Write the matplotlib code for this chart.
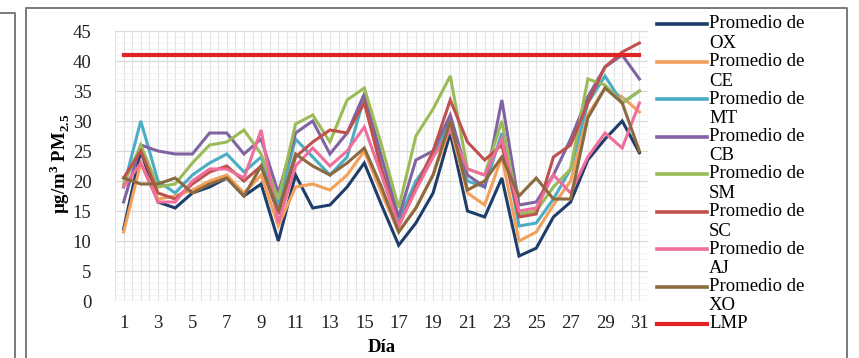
import matplotlib
matplotlib.use("Agg")
import matplotlib.pyplot as plt
from matplotlib.lines import Line2D
import numpy as np

# ── Datos ────────────────────────────────────────────────────────────────────
dias = list(range(1, 32))

ox = [12, 25, 16.5, 15.5, 18, 19, 20.5, 17.5, 19.5, 10, 21, 15.5, 16, 19, 23, 16,
      9.3, 13, 18, 28, 15, 14, 20.5, 7.5, 8.8, 14, 16.5, 23.5, 27, 30, 24.7]
ce = [11.5, 23, 17, 17.5, 18.5, 20, 21, 18, 21, 12.5, 19, 19.5, 18.5, 21, 25, 18,
      11.5, 15.5, 21, 29, 18, 16, 24, 10, 11.5, 16, 20, 31, 35.5, 34, 31.5]
mt = [19, 30, 20, 18, 21, 23, 24.5, 21.5, 24, 16, 27, 24, 21, 24, 34, 22,
      13.5, 20, 24, 30, 20, 19, 28, 12.5, 13, 17, 22, 33, 37.5, 33, 35]
cb = [16.5, 26, 25, 24.5, 24.5, 28, 28, 24.5, 27, 18, 28, 30, 24.5, 28, 34.5, 24,
      14, 23.5, 25, 31, 21, 19, 33.5, 16, 16.5, 21, 27, 34, 39, 41, 37]
sm = [19.5, 26, 19, 19.5, 23, 26, 26.5, 28.5, 24.5, 17, 29.5, 31, 26.5, 33.5, 35.5, 26,
      15.5, 27.5, 32, 37.5, 22, 21, 30, 14.5, 15, 19, 22, 37, 36, 33, 35]
sc = [20.5, 25, 18, 17, 19.5, 21.5, 22.5, 20, 22.5, 14.5, 24, 26.5, 28.5, 28, 33, 22,
      12.5, 19, 25, 33.5, 26.5, 23.5, 26, 14, 14.5, 24, 26, 33, 39, 41.5, 43]
aj = [19, 23, 16.5, 16.5, 20, 22, 22, 20.5, 28.5, 13, 22.5, 25.5, 22.5, 25, 29, 21,
      12.5, 18.5, 24, 28.5, 22, 21, 27, 15, 15.5, 21, 18, 24, 28, 25.5, 33]
xo = [20.5, 19.5, 19.5, 20.5, 18, 19.5, 20.5, 17.5, 22.5, 15, 24.5, 22.5, 21, 23, 25.5, 19,
      11.5, 15.5, 21, 30, 18.5, 20, 24, 17.5, 20.5, 17, 17, 30.5, 35.5, 33, 25]
lmp = [41] * 31

estaciones = ["OX", "CE", "MT", "CB", "SM", "SC", "AJ", "XO"]
series = [ox, ce, mt, cb, sm, sc, aj, xo]
colores = ["#1f3d6b", "#f2a05a", "#4bacc6", "#8064a2", "#9bbb59", "#c0504d", "#ee6f9c", "#8c6a3f"]
color_lmp = "#e02424"

SERIF = ["Liberation Serif", "DejaVu Serif"]
plt.rcParams["font.family"] = SERIF
plt.rcParams["mathtext.fontset"] = "custom"
plt.rcParams["mathtext.rm"] = "Liberation Serif"
plt.rcParams["mathtext.bf"] = "Liberation Serif:bold"

W, H = 859, 358
fig = plt.figure(figsize=(W / 100, H / 100), dpi=100)
fig.patch.set_facecolor("white")


def fx(px):
    return px / W


def fy(py):
    return 1 - py / H


ax = fig.add_axes([fx(115), fy(301), fx(648) - fx(115), fy(31) - fy(301)])

# ── Rejilla ──────────────────────────────────────────────────────────────────
for xv in np.arange(0.5, 31.6, 0.5):
    ax.axvline(xv, color="#e3e3e3", lw=0.8, zorder=0)
for yv in range(0, 46):
    ax.axhline(yv, color="#f0f0f0", lw=0.5, zorder=0)
for yv in range(0, 46, 5):
    ax.axhline(yv, color="#d9d9d9", lw=0.9, zorder=0)

# ── Series ───────────────────────────────────────────────────────────────────
for vals, col in zip(series, colores):
    ax.plot(dias, vals, color=col, lw=2.2, solid_joinstyle="miter", zorder=2)
ax.plot(dias, lmp, color=color_lmp, lw=3.0, zorder=3)

ax.set_xlim(0.5, 31.5)
ax.set_ylim(0, 45)
ax.set_xticks(range(1, 32, 2))
ax.set_yticks(range(0, 46, 5))
ax.tick_params(axis="both", length=0, labelsize=13.5, colors="#222222")
ax.tick_params(axis="y", pad=17)
ax.tick_params(axis="x", pad=10)
for s in ax.spines.values():
    s.set_visible(False)

ax.set_xlabel("Día", fontsize=13.5, fontweight="bold", labelpad=5)
fig.text(fx(60), fy(164), r"µg/m$^\mathbf{3}$ PM$_\mathbf{2.5}$", rotation=90,
         ha="center", va="center", fontsize=13.5, fontweight="bold")

# ── Leyenda manual ───────────────────────────────────────────────────────────
y0, paso = 24, 37.5
fs_ley = 13.5
for i, (nombre, col) in enumerate(zip(estaciones, colores)):
    yy = y0 + i * paso
    fig.add_artist(Line2D([fx(657), fx(707)], [fy(yy), fy(yy)], color=col, lw=2.6))
    fig.text(fx(709), fy(yy), "Promedio de", ha="left", va="center", fontsize=fs_ley)
    fig.text(fx(709), fy(yy + 19.5), nombre, ha="left", va="center", fontsize=fs_ley)
yy = y0 + 8 * paso
fig.add_artist(Line2D([fx(657), fx(707)], [fy(yy), fy(yy)], color=color_lmp, lw=3.0))
fig.text(fx(709), fy(yy), "LMP", ha="left", va="center", fontsize=fs_ley)

# ── Marcos ───────────────────────────────────────────────────────────────────
gris = "#7a7a7a"
fig.add_artist(Line2D([fx(26), fx(26), fx(847), fx(847)],
                      [0, fy(8), fy(8), 0], color=gris, lw=1.4))
fig.add_artist(Line2D([0, fx(15), fx(15)], [fy(12.5), fy(12.5), 0], color=gris, lw=1.4))

fig.savefig("out.png", dpi=100)
